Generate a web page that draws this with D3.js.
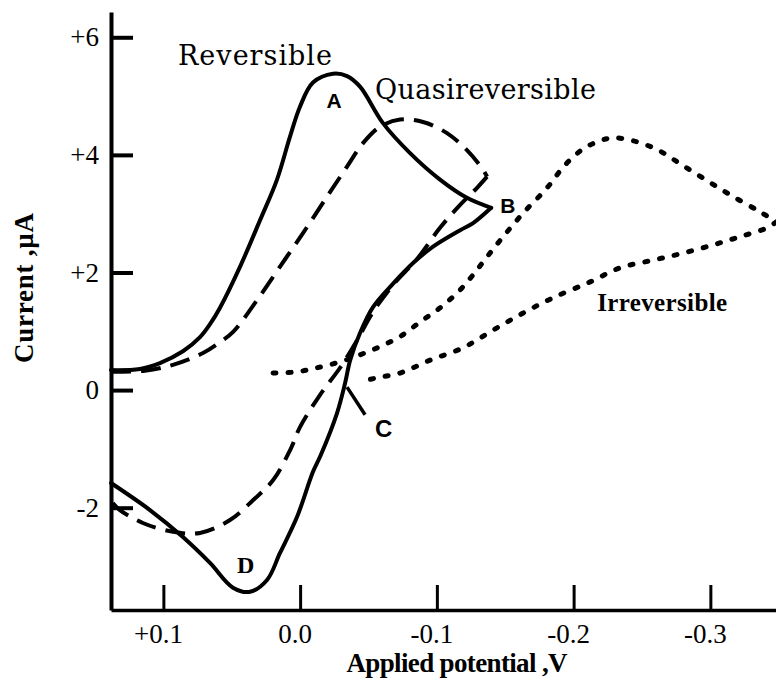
<!DOCTYPE html>
<html>
<head>
<meta charset="utf-8">
<script src="https://cdn.jsdelivr.net/npm/d3@7"></script>
<style>
  body { margin: 0; background: #fff; }
  svg { display: block; }
  .axis text { font-family: 'Liberation Serif', 'Times New Roman', serif; font-size: 27px; }
</style>
</head>
<body>
<script>
// Cyclic voltammograms: reversible / quasireversible / irreversible

// tick values + labels
var xTickVals = [0.1, 0.0, -0.1, -0.2, -0.3];
var xTickLabels = ["+0.1", "0.0", "-0.1", "-0.2", "-0.3"];
var yTickVals = [6, 4, 2, 0, -2];
var yTickLabels = ["+6", "+4", "+2", "0", "-2"];

// [potential V, current uA]
var reversibleForward = [
  [0.1383, 0.34], [0.1171, 0.36], [0.1025, 0.46], [0.0857, 0.66], [0.0732, 0.90],
  [0.0659, 1.12], [0.0586, 1.40], [0.0439, 2.10], [0.0293, 2.89], [0.0169, 3.58], [0.0074, 4.31],
  [0.0001, 4.82], [-0.0094, 5.23], [-0.0241, 5.38], [-0.0343, 5.34], [-0.0438, 5.16],
  [-0.0606, 4.54], [-0.0804, 4.03], [-0.1023, 3.58], [-0.1220, 3.27], [-0.1397, 3.10]
];
var reversibleReverse = [
  [-0.1397, 3.10], [-0.1265, 2.84], [-0.1170, 2.72], [-0.0972, 2.44], [-0.0826, 2.16],
  [-0.0680, 1.81], [-0.0533, 1.41], [-0.0438, 0.97], [-0.0366, 0.51], [-0.0329, 0.12],
  [-0.0270, -0.39], [-0.0152, -1.10], [-0.0094, -1.39], [0.0023, -2.16], [0.0147, -2.77],
  [0.0242, -3.23], [0.0366, -3.43], [0.0491, -3.36], [0.0659, -2.94], [0.0857, -2.50],
  [0.1098, -2.04], [0.1383, -1.58]
];
var quasiForward = [
  [0.1383, 0.31], [0.1135, 0.33], [0.0930, 0.43], [0.0710, 0.63], [0.0601, 0.79], [0.0490, 0.99],
  [0.0315, 1.53], [0.0147, 2.10], [-0.0021, 2.67], [-0.0197, 3.29], [-0.0343, 3.80],
  [-0.0460, 4.20], [-0.0585, 4.48], [-0.0731, 4.60], [-0.0899, 4.56], [-0.1074, 4.37],
  [-0.1220, 4.08], [-0.1337, 3.75], [-0.1367, 3.63]
];
var quasiReverse = [
  [-0.1367, 3.63], [-0.1294, 3.44], [-0.1170, 3.15], [-0.1023, 2.76], [-0.0855, 2.23],
  [-0.0680, 1.79], [-0.0534, 1.33], [-0.0417, 0.85], [-0.0292, 0.38], [-0.0146, -0.08],
  [0.0001, -0.63], [0.0073, -1.02], [0.0197, -1.53], [0.0343, -1.87], [0.0513, -2.21],
  [0.0732, -2.43], [0.0930, -2.41], [0.1150, -2.26], [0.1318, -2.04], [0.1370, -1.92]
];
var irrevForward = [
  [0.0198, 0.29], [0.0023, 0.31], [-0.0124, 0.38], [-0.0292, 0.48], [-0.0438, 0.60],
  [-0.0585, 0.74], [-0.0731, 0.91], [-0.0878, 1.16], [-0.1024, 1.40], [-0.1156, 1.67],
  [-0.1258, 1.94], [-0.1368, 2.27], [-0.1485, 2.61], [-0.1631, 3.01], [-0.1806, 3.44],
  [-0.1938, 3.83], [-0.2069, 4.10], [-0.2194, 4.24], [-0.2289, 4.29], [-0.2435, 4.24],
  [-0.2611, 4.09], [-0.2779, 3.85], [-0.2977, 3.56], [-0.3167, 3.29], [-0.3365, 3.03],
  [-0.3482, 2.86]
];
var irrevReverse = [
  [-0.3482, 2.86], [-0.3416, 2.76], [-0.3219, 2.61], [-0.3021, 2.47], [-0.2802, 2.33],
  [-0.2582, 2.21], [-0.2341, 2.08], [-0.2121, 1.84], [-0.1850, 1.57], [-0.1631, 1.31],
  [-0.1411, 1.02], [-0.1192, 0.72], [-0.0951, 0.51], [-0.0731, 0.29], [-0.0563, 0.21],
  [-0.0438, 0.14]
];
// leader line to "C"
var leaderC = [[-0.0343, 0.05], [-0.0475, -0.42]];

// curve names and point labels: [text, E, I]
var curveNames = [["Reversible", 0.0893, 5.53, 154], ["Quasireversible", -0.0548, 4.95, 221]];
var pointNames = [["A", -0.0249, 4.80], ["B", -0.1463, 3.01], ["C", -0.0548, -0.80]];

// 1. Margin
var outWidth = 776, outHeight = 682;
var margin = {top: 12, right: 0, bottom: 72, left: 111},
    width = outWidth - margin.left - margin.right,
    height = outHeight - margin.top - margin.bottom;

// 2. Scale (potential runs + to - from left to right)
var xScale = d3.scaleLinear().domain([0.1383, -0.348]).range([0, width]);
var yScale = d3.scaleLinear().domain([-3.74, 6.43]).range([height, 0]);

// 3. Axis
var xAxis = d3.axisBottom(xScale)
    .tickValues(xTickVals)
    .tickFormat(function(d, i) { return xTickLabels[i]; })
    .tickSizeInner(-25).tickSizeOuter(0).tickPadding(14);
var yAxis = d3.axisLeft(yScale)
    .tickValues(yTickVals)
    .tickFormat(function(d, i) { return yTickLabels[i]; })
    .tickSizeInner(-22).tickSizeOuter(0).tickPadding(12);

// 4. svg
var svg = d3.select("body").append("svg")
    .attr("width", outWidth)
    .attr("height", outHeight);
var g = svg.append("g")
    .attr("transform", "translate(" + margin.left + "," + margin.top + ")");

var line = d3.line()
    .x(function(d) { return xScale(d[0]); })
    .y(function(d) { return yScale(d[1]); })
    .curve(d3.curveCatmullRom.alpha(0.5));

// 5. curves
function drawBranch(data, dash, w, cap) {
  g.append("path")
    .datum(data)
    .attr("d", line)
    .attr("fill", "none")
    .attr("stroke", "#000")
    .attr("stroke-width", w)
    .attr("stroke-linejoin", "round")
    .attr("stroke-linecap", cap)
    .attr("stroke-dasharray", dash);
}
drawBranch(irrevForward, "3 12", 5, "round");
drawBranch(irrevReverse, "3 12", 5, "round");
drawBranch(quasiForward, "20 10", 4, "butt");
drawBranch(quasiReverse, "20 10", 4, "butt");
drawBranch(reversibleForward, null, 4, "round");
drawBranch(reversibleReverse, null, 4, "round");

g.append("path")
  .datum(leaderC)
  .attr("d", d3.line().x(function(d) { return xScale(d[0]); }).y(function(d) { return yScale(d[1]); }))
  .attr("stroke", "#000")
  .attr("stroke-width", 3.5);

// 6. axes
var gx = g.append("g")
    .attr("class", "axis")
    .attr("transform", "translate(0," + height + ")")
    .call(xAxis)
    .attr("font-family", "'Liberation Serif', 'Times New Roman', serif")
    .attr("font-size", 27);
gx.select(".domain").attr("stroke-width", 3.5);
gx.selectAll(".tick line").attr("stroke-width", 3);
gx.selectAll(".tick text").attr("dx", "-0.2em");

var gy = g.append("g")
    .attr("class", "axis")
    .call(yAxis)
    .attr("font-family", "'Liberation Serif', 'Times New Roman', serif")
    .attr("font-size", 27);
gy.select(".domain").attr("stroke-width", 4);
gy.selectAll(".tick line").attr("stroke-width", 4);

// axis titles
svg.append("text")
    .attr("x", 457).attr("y", 672)
    .style("text-anchor", "middle")
    .style("font-family", "'Liberation Serif', serif")
    .style("font-weight", "bold")
    .style("font-size", "27px")
    .attr("textLength", 221)
    .text("Applied potential ,V");
svg.append("text")
    .attr("transform", "translate(33,288) rotate(-90)")
    .style("text-anchor", "middle")
    .style("font-family", "'Liberation Serif', serif")
    .style("font-weight", "bold")
    .style("font-size", "27px")
    .attr("textLength", 150)
    .text("Current ,µA");

// 7. annotations
g.selectAll(".cname")
  .data(curveNames)
  .enter().append("text")
    .attr("class", "cname")
    .attr("x", function(d) { return xScale(d[1]); })
    .attr("y", function(d) { return yScale(d[2]); })
    .attr("textLength", function(d) { return d[3]; })
    .style("font-family", "'DejaVu Serif', serif")
    .style("font-size", "27px")
    .text(function(d) { return d[0]; });

g.append("text")
    .attr("x", xScale(-0.2172)).attr("y", yScale(1.35))
    .attr("textLength", 130)
    .style("font-family", "'Liberation Serif', serif")
    .style("font-weight", "bold")
    .style("font-size", "25px")
    .text("Irreversible");

g.selectAll(".pname")
  .data(pointNames)
  .enter().append("text")
    .attr("class", "pname")
    .attr("x", function(d) { return xScale(d[1]); })
    .attr("y", function(d) { return yScale(d[2]); })
    .style("text-anchor", function(d) { return d[0] == "A" ? "middle" : "start"; })
    .style("font-family", "'Liberation Sans', Arial, sans-serif")
    .style("font-weight", "bold")
    .style("font-size", function(d) { return d[0] == "C" ? "24px" : "21px"; })
    .text(function(d) { return d[0]; });

g.append("text")
    .attr("x", xScale(0.0461)).attr("y", yScale(-3.11))
    .style("font-family", "'Liberation Serif', serif")
    .style("font-weight", "bold")
    .style("font-size", "24px")
    .text("D");
</script>
</body>
</html>
